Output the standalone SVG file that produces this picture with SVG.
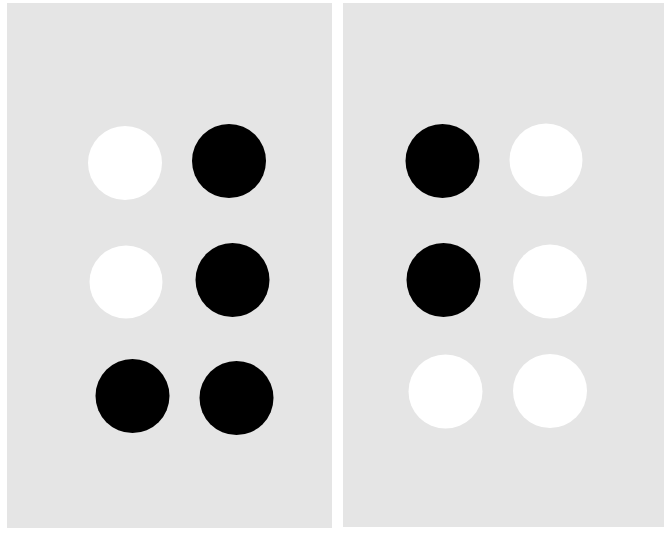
<svg xmlns="http://www.w3.org/2000/svg" width="665" height="534" viewBox="0 0 665 534">
<style>
.panel{fill:#e5e5e5}
.w{fill:#ffffff}
.b{fill:#000000}
</style>
<rect width="665" height="534" fill="#ffffff"/>
<g id="panel-left">
<rect class="panel" x="7" y="3" width="325" height="525"/>
<circle class="w" cx="125" cy="163" r="37"/>
<circle class="b" cx="229" cy="161" r="37"/>
<circle class="w" cx="126" cy="282" r="36.5"/>
<circle class="b" cx="232.5" cy="280" r="37"/>
<circle class="b" cx="132.5" cy="396" r="37"/>
<circle class="b" cx="236.5" cy="398" r="37"/>
</g>
<g id="panel-right">
<rect class="panel" x="343" y="3" width="321" height="524"/>
<circle class="b" cx="442.5" cy="161" r="37"/>
<circle class="w" cx="546" cy="160" r="36.5"/>
<circle class="b" cx="443.5" cy="280" r="37"/>
<circle class="w" cx="550" cy="281.5" r="37"/>
<circle class="w" cx="445.5" cy="391.5" r="37"/>
<circle class="w" cx="550" cy="391" r="37"/>
</g>
<g id="connectors"/>
</svg>
